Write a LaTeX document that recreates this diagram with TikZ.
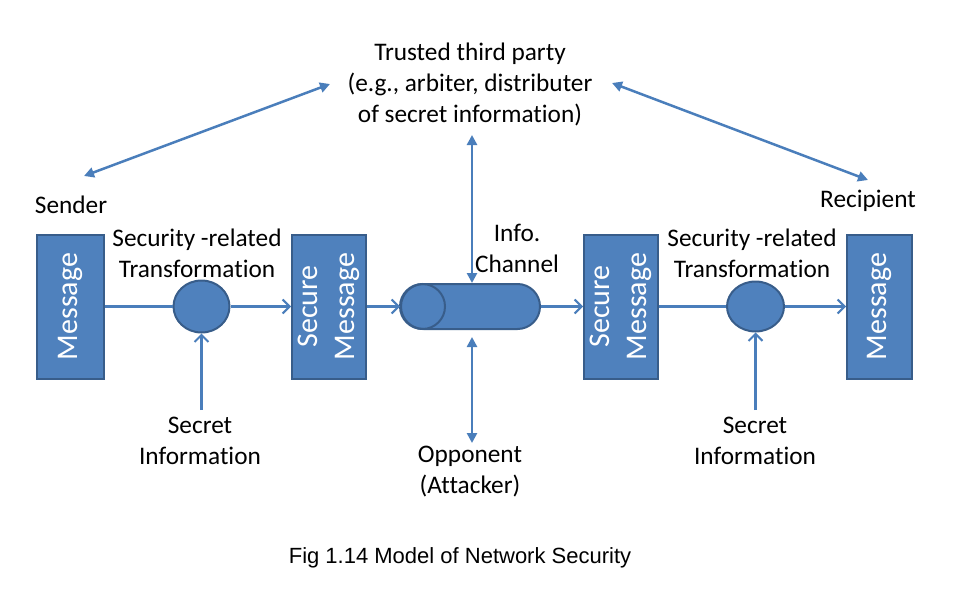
\documentclass[tikz,border=0pt]{standalone}
\usepackage{fontspec}
\setmainfont{Carlito}[Ligatures=NoCommon,RawFeature={-liga,-clig,-dlig}]
\newfontfamily\capfont{Liberation Sans}
\usetikzlibrary{arrows.meta,shapes.geometric,shapes.misc}
\definecolor{bfill}{HTML}{4F81BD}
\definecolor{bdraw}{HTML}{385D8A}
\definecolor{aline}{HTML}{4A7EBB}
\begin{document}
\begin{tikzpicture}[x=1pt,y=-1pt,
  box/.style={draw=bdraw, line width=2pt, fill=bfill, minimum height=144pt, inner sep=0pt, text=white, font=\fontsize{30}{37}\selectfont},
  xform/.style={ellipse, draw=bdraw, line width=2pt, fill=bfill, minimum width=56pt, minimum height=52pt, inner sep=0pt},
  lbl/.style={align=center, font=\fontsize{25.3}{31}\selectfont, inner sep=0pt},
  plain/.style={draw=aline, line width=2.5pt},
  flow/.style={plain, -{Straight Barb[length=7pt,width=14pt,line width=2pt]}},
  link/.style={plain, {Triangle[length=10pt,width=10pt]}-{Triangle[length=10pt,width=10pt]}}
]
\useasboundingbox (0,0) rectangle (961,602);
% boxes
\node[box, minimum width=67pt] (m1) at (70.5,306.5) {\rotatebox{90}{Message}};
\node[box, minimum width=74pt] (s1) at (329,306.5) {\rotatebox{90}{\begin{tabular}{@{}c@{}}Secure\\Message\end{tabular}}};
\node[box, minimum width=72pt] (s2) at (621,306.5) {\rotatebox{90}{\begin{tabular}{@{}c@{}}Secure\\Message\end{tabular}}};
\node[box, minimum width=65pt] (m2) at (879.5,306.5) {\rotatebox{90}{Message}};
% transformations
\node[xform] (t1) at (201.5,306.5) {};
\node[xform, minimum width=57pt, minimum height=50pt] (t2) at (755.5,306.5) {};
% channel
\node[rounded rectangle, draw=bdraw, line width=2pt, fill=bfill, minimum width=139pt, minimum height=45pt, inner sep=0pt] (ch) at (470.5,306.5) {};
\draw[draw=bdraw, line width=2pt] ([xshift=22.5pt]ch.west) circle[radius=22.5pt];
% labels
\node[lbl] (ttp) at (470,84) {Trusted third party\\(e.g., arbiter, distributer\\of secret information)};
\node[lbl] (snd) at (71,204.5) {Sender};
\node[lbl] (rcp) at (868,201) {Recipient};
\node[lbl] (srt1) at (197,253) {Security -related\\Transformation};
\node[lbl] (srt2) at (752,253) {Security -related\\Transformation};
\node[lbl] (info) at (517,248) {Info.\\Channel};
\node[lbl] (sec1) at (200,441) {Secret\\Information};
\node[lbl] (sec2) at (755,441) {Secret\\Information};
\node[lbl] (opp) at (470,472) {Opponent\\(Attacker)};
\node[font=\capfont\fontsize{22}{26}\selectfont, inner sep=0pt] (cap) at (460,558) {Fig 1.14 Model of Network Security};
% flow connectors
\draw[plain] (m1.east) -- (t1.west);
\draw[flow] (t1.east) -- (s1.west);
\draw[flow] (s1.east) -- (ch.west);
\draw[flow] (ch.east) -- (s2.west);
\draw[plain] (s2.east) -- (t2.west);
\draw[flow] (t2.east) -- (m2.west);
% secret information
\coordinate (si1) at (201.5,410);
\coordinate (si2) at (755.5,410);
\draw[flow] (si1) -- (t1.south);
\draw[flow] (si2) -- (t2.south);
% trusted third party and opponent
\coordinate (tt) at (472,135);
\coordinate (op1) at (472,337);
\coordinate (op2) at (472,443);
\draw[link] (tt |- ch.north) -- (tt);
\draw[link] (op1) -- (op2);
\coordinate (dl1) at (330,84);
\coordinate (dl2) at (84,176);
\coordinate (dr1) at (612,83);
\coordinate (dr2) at (868,180);
\draw[link] (dl1) -- (dl2);
\draw[link] (dr1) -- (dr2);
\end{tikzpicture}
\end{document}
